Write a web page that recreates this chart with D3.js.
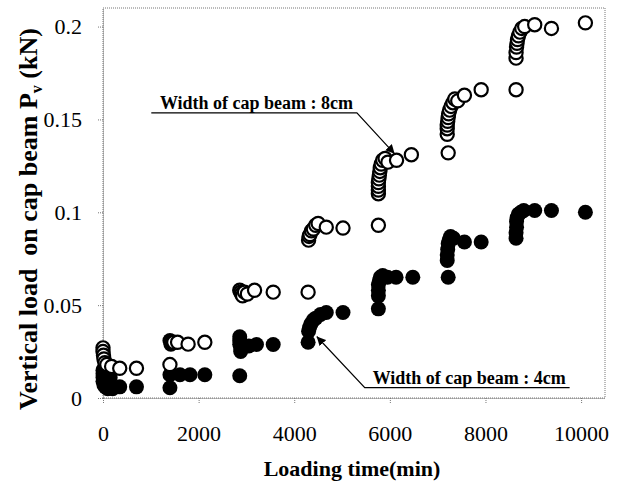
<!DOCTYPE html>
<html>
<head>
<meta charset="utf-8">
<script src="https://cdn.jsdelivr.net/npm/d3@7"></script>
<style>
  body { margin: 0; background: #fff; }
  svg { display: block; }
</style>
</head>
<body>
<svg id="chart" width="621" height="488"></svg>
<script>
// Loading time (min) vs vertical load (kN)
const width8cm = [
  [0, 0.027], [0, 0.025], [10, 0.023], [20, 0.021], [40, 0.019], [80, 0.018], [180, 0.017], [350, 0.016], [700, 0.016],
  [1400, 0.018], [1480, 0.030], [1560, 0.030], [1780, 0.029], [2130, 0.030],
  [2860, 0.058], [2880, 0.057], [2900, 0.056], [2920, 0.055], [2960, 0.057], [3020, 0.056], [3170, 0.058], [3560, 0.057], [4290, 0.057],
  [4300, 0.085], [4310, 0.087], [4330, 0.088], [4360, 0.090], [4400, 0.091], [4450, 0.093], [4500, 0.094], [4670, 0.092], [5020, 0.0915],
  [5760, 0.093], [5760, 0.110], [5760, 0.112], [5760, 0.114], [5760, 0.116], [5770, 0.118], [5780, 0.120], [5790, 0.122],
  [5800, 0.124], [5820, 0.126], [5850, 0.128], [5900, 0.129], [5960, 0.127], [6140, 0.128], [6450, 0.131],
  [7220, 0.132], [7200, 0.142], [7200, 0.145], [7200, 0.147], [7210, 0.149], [7220, 0.151], [7230, 0.153], [7250, 0.155],
  [7280, 0.157], [7320, 0.159], [7360, 0.161], [7420, 0.160], [7560, 0.163], [7910, 0.166],
  [8640, 0.166], [8640, 0.183], [8640, 0.186], [8650, 0.189], [8660, 0.191], [8670, 0.193], [8690, 0.195], [8720, 0.197],
  [8760, 0.199], [8820, 0.200], [9030, 0.201], [9380, 0.199], [10090, 0.202]
];

const width4cm = [
  [0, 0.015], [0, 0.013], [0, 0.011], [0, 0.009], [20, 0.007], [50, 0.006], [100, 0.005], [150, 0.011], [200, 0.005], [350, 0.006], [700, 0.006],
  [1400, 0.031], [1420, 0.029], [1400, 0.0125], [1610, 0.0125], [1820, 0.0125], [2130, 0.0125], [1400, 0.0055],
  [2860, 0.033], [2860, 0.031], [2860, 0.029], [2880, 0.027], [2880, 0.025], [2950, 0.028], [3050, 0.028], [3210, 0.0288], [3560, 0.0288], [2860, 0.012],
  [4290, 0.030], [4300, 0.036], [4320, 0.038], [4350, 0.040], [4400, 0.042], [4450, 0.043], [4550, 0.045], [4670, 0.046], [5020, 0.046],
  [5760, 0.048], [5760, 0.055], [5760, 0.058], [5760, 0.061], [5780, 0.063], [5800, 0.065], [5850, 0.066], [5950, 0.065], [6130, 0.065], [6480, 0.065],
  [7220, 0.065], [7200, 0.074], [7200, 0.077], [7210, 0.080], [7220, 0.083], [7240, 0.085], [7270, 0.087], [7330, 0.086], [7560, 0.084], [7910, 0.084],
  [8640, 0.086], [8640, 0.089], [8650, 0.092], [8650, 0.095], [8660, 0.097], [8690, 0.099], [8740, 0.100], [8800, 0.101], [9030, 0.101], [9380, 0.101], [10090, 0.100]
];

const xTicks = [0, 2000, 4000, 6000, 8000, 10000];
const yTicks = [0, 0.05, 0.1, 0.15, 0.2];

// callouts in data units: text anchor, underline start/end, elbow, arrow tip
const callouts = [
  { label: "Width of cap beam : 8cm", text: [1190, 0.1555], line: [[1010, 0.1535], [5310, 0.1535], [6100, 0.1315]] },
  { label: "Width of cap beam : 4cm", text: [5640, 0.0073], line: [[9760, 0.0056], [5475, 0.0056], [4470, 0.0331]] }
];

// General Variables
const margin = { top: 8, right: 16, left: 103, bottom: 90 };
const chart = d3.select("#chart");
const innerWidth = 621 - margin.left - margin.right;
const innerHeight = 488 - margin.top - margin.bottom;
const serif = "'Liberation Serif', 'Times New Roman', serif";

let x = d3.scaleLinear().domain([0, 10500]).range([0, innerWidth]);
let y = d3.scaleLinear().domain([0, 0.21]).range([innerHeight, 0]);

const g = chart.append("g")
    .attr("transform", "translate(" + margin.left + "," + margin.top + ")");

// dotted frame
g.append("rect")
    .attr("width", innerWidth)
    .attr("height", innerHeight)
    .attr("fill", "none")
    .attr("stroke", "#777")
    .attr("stroke-width", 1)
    .attr("stroke-dasharray", "1,1");

// Y Axis
const yAxis = g.append("g")
    .call(d3.axisLeft(y).tickValues(yTicks).tickFormat(d => d).tickSizeInner(5).tickSizeOuter(0).tickPadding(16));

// X Axis
const xAxis = g.append("g")
    .attr("transform", "translate(0," + innerHeight + ")")
    .call(d3.axisBottom(x).tickValues(xTicks).tickFormat(d => d).tickSizeInner(5).tickSizeOuter(0).tickPadding(22));

[xAxis, yAxis].forEach(a => {
    a.select(".domain").attr("stroke", "#777").attr("stroke-dasharray", "1,1");
    a.selectAll(".tick line").attr("stroke", "#777").attr("stroke-dasharray", "1,1");
    a.selectAll(".tick text")
        .attr("fill", "#000")
        .style("font-family", serif)
        .style("font-size", "22px");
});

// filled points (4cm)
g.selectAll("circle.w4")
    .data(width4cm).enter()
    .append("circle")
    .attr("class", "w4")
    .attr("r", 7.5)
    .attr("cx", d => x(d[0]))
    .attr("cy", d => y(d[1]))
    .attr("fill", "#000");

// open points (8cm)
g.selectAll("circle.w8")
    .data(width8cm).enter()
    .append("circle")
    .attr("class", "w8")
    .attr("r", 6.6)
    .attr("cx", d => x(d[0]))
    .attr("cy", d => y(d[1]))
    .attr("fill", "#fff")
    .attr("stroke", "#000")
    .attr("stroke-width", 2.2);

// callouts
chart.append("defs").append("marker")
    .attr("id", "arrow")
    .attr("viewBox", "0 0 10 10")
    .attr("refX", 10).attr("refY", 5)
    .attr("markerWidth", 9).attr("markerHeight", 9)
    .attr("markerUnits", "userSpaceOnUse")
    .attr("orient", "auto")
    .append("path")
    .attr("d", "M0,0 L10,5 L0,10 z")
    .attr("fill", "#000");

callouts.forEach(c => {
    g.append("path")
        .attr("d", d3.line().x(p => x(p[0])).y(p => y(p[1]))(c.line))
        .attr("fill", "none")
        .attr("stroke", "#000")
        .attr("stroke-width", 1.2)
        .attr("marker-end", "url(#arrow)");
    g.append("text")
        .attr("x", x(c.text[0]))
        .attr("y", y(c.text[1]))
        .style("font-family", serif)
        .style("font-weight", "bold")
        .style("font-size", "18px")
        .text(c.label);
});

// axis labels
g.append("text")
    .attr("x", innerWidth / 2 - 2)
    .attr("y", 468)
    .attr("text-anchor", "middle")
    .style("font-family", serif)
    .style("font-weight", "bold")
    .style("font-size", "22px")
    .text("Loading time(min)");

const yLabel = g.append("text")
    .attr("transform", "translate(" + (37 - margin.left) + "," + (219 - margin.top) + ") rotate(-90)")
    .attr("text-anchor", "middle")
    .style("font-family", serif)
    .style("font-weight", "bold")
    .style("font-size", "26px");
yLabel.append("tspan").text("Vertical load\u00a0 on cap beam P");
yLabel.append("tspan").attr("dy", 5).style("font-size", "16px").text("v");
yLabel.append("tspan").attr("dy", -5).text(" (kN)");
</script>
</body>
</html>
